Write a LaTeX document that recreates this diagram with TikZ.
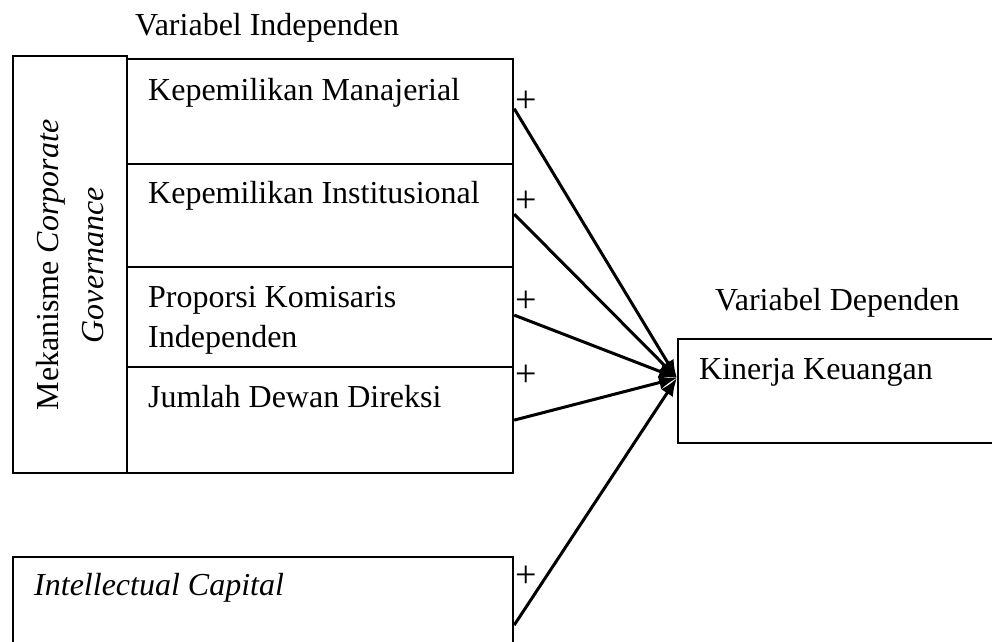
\documentclass[tikz,border=0pt]{standalone}
\usepackage{fontspec}
\setmainfont{Liberation Serif}
\usetikzlibrary{arrows.meta}
\begin{document}
\begin{tikzpicture}[x=1pt,y=-1pt,
  box/.style={draw,line width=2.2pt,inner sep=0pt,anchor=north west},
  txt/.style={inner sep=0pt,anchor=base west,font=\fontsize{32}{45}\selectfont},
  plus/.style={inner sep=0pt,font=\fontsize{38}{40}\selectfont},
  conn/.style={line width=3pt,-{Latex[length=18pt,width=14pt]}}]
\useasboundingbox (0,0) rectangle (992,641);
\clip (0,0) rectangle (992,641);
% left box
\node[box,minimum width=114pt,minimum height=417pt] (cg) at (12,55) {};
\node[inner sep=0pt,rotate=90,align=center,font=\fontsize{32}{45}\selectfont] (cgt) at (70,265) {Mekanisme \textit{Corporate}\\\textit{Governance}};
% rows
\node[box,minimum width=386pt,minimum height=105pt] (r1) at (126,58) {};
\node[box,minimum width=386pt,minimum height=103pt] (r2) at (126,163) {};
\node[box,minimum width=386pt,minimum height=100pt] (r3) at (126,266) {};
\node[box,minimum width=386pt,minimum height=106pt] (r4) at (126,366) {};
\node[txt] (t1) at (148,100) {Kepemilikan Manajerial};
\node[txt] (t2) at (148,203) {Kepemilikan Institusional};
\node[txt] (t3) at (148,307) {Proporsi Komisaris};
\node[txt] (t3b) at (148,347) {Independen};
\node[txt] (t4) at (148,407) {Jumlah Dewan Direksi};
\node[txt] (vi) at (135,35) {Variabel Independen};
% intellectual capital
\node[box,minimum width=500pt,minimum height=136pt] (ic) at (12,556) {};
\node[txt] (ict) at (34,595) {\textit{Intellectual Capital}};
% dependent
\node[box,minimum width=340pt,minimum height=104pt] (kin) at (677,338) {};
\node[txt] (kint) at (699,379) {Kinerja Keuangan};
\node[txt] (vd) at (715,310) {Variabel Dependen};
\coordinate (t) at (677,378);
% connectors
\draw[conn] ([yshift=3pt]r1.east) -- (t);
\draw[conn] ([yshift=1.5pt]r2.east) -- (t);
\draw[conn] ([yshift=2pt]r3.east) -- (t);
\draw[conn] (r4.east) -- (t);
\draw[conn] (ic.east) -- (t);
% signs
\node[plus] (p1) at (526,102) {+};
\node[plus] (p2) at (526,202) {+};
\node[plus] (p3) at (526,302) {+};
\node[plus] (p4) at (526,376) {+};
\node[plus] (p5) at (526,577) {+};
\end{tikzpicture}
\end{document}
